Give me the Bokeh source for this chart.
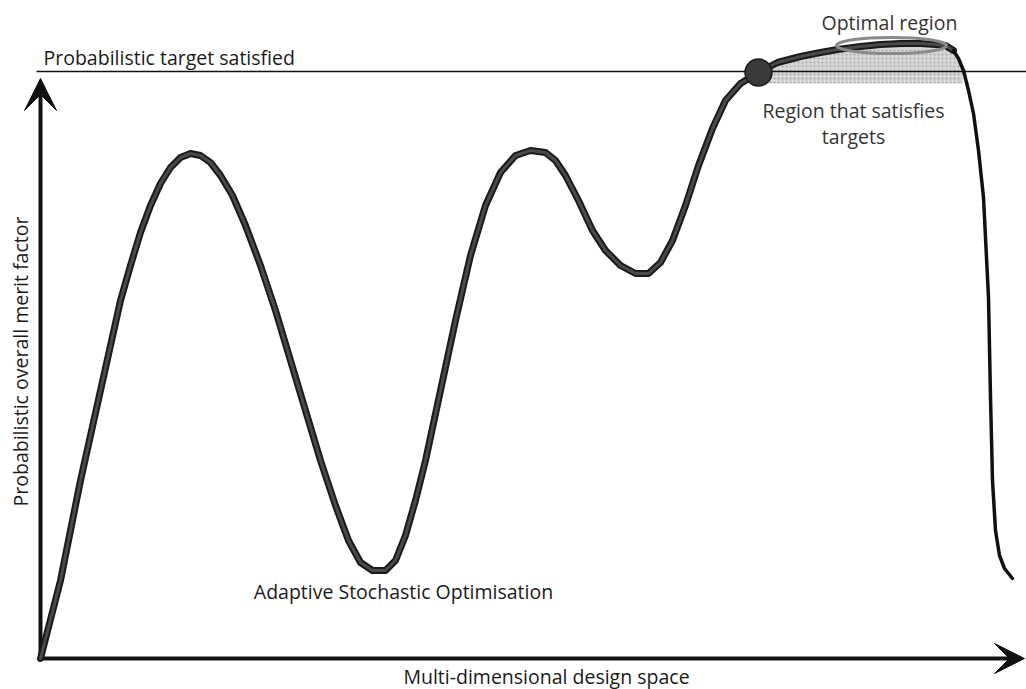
from bokeh.plotting import figure
from bokeh.models import Range1d, Arrow, VeeHead, Label
from bokeh.embed import file_html
from bokeh.resources import INLINE

# Diagram space (units, y grows downward)
x_min, x_max = 40, 1024
y_min, y_top = 658, 78
target_level = 71

# Merit-factor curve (main, thick part)
curve_x = [40, 60, 80, 100, 120, 130, 140, 150, 160, 170, 180, 190, 200, 210, 220, 232, 245,
           260, 275, 290, 305, 320, 335, 348, 360, 372, 385, 395, 405, 415, 425, 440, 455,
           470, 485, 500, 515, 530, 545, 555, 565, 578, 592, 605, 620, 635, 648, 660, 672,
           685, 698, 712, 725, 740, 758, 777, 800, 820, 837, 860, 880, 900, 920, 935, 945, 953]
curve_y = [658, 580, 480, 390, 300, 265, 232, 205, 183, 167, 157, 153, 155, 162, 175, 195, 225,
           265, 310, 360, 410, 460, 505, 540, 562, 570, 570, 560, 535, 500, 460, 390, 320,
           255, 205, 172, 155, 150, 152, 160, 175, 200, 230, 250, 265, 273, 273, 262, 240,
           205, 165, 128, 100, 83, 72, 62, 56, 52, 49, 46, 44, 43, 43, 44, 45, 50]

# Sharp drop after the optimal region (thin part)
drop_x = [953, 958, 963, 968, 973, 978, 983, 988, 990, 992, 995, 999, 1004, 1012]
drop_y = [50, 58, 70, 90, 113, 150, 197, 297, 397, 480, 530, 555, 568, 578]

# Region that satisfies targets (between curve and lower bound)
region_x = [766, 777, 800, 820, 837, 860, 880, 900, 920, 935, 945, 953, 958, 962]
region_top = [68, 62, 56, 52, 49, 46, 44, 43, 43, 44, 45, 50, 58, 68]
region_bottom = 83

# Markers
first_hit = (758, 72)
optimal_center = (891, 45)

p = figure(width=1026, height=689, x_range=Range1d(0, 1026), y_range=Range1d(689, 0),
           output_backend="svg", toolbar_location=None, min_border=0)
p.axis.visible = False
p.grid.visible = False
p.outline_line_color = None
p.background_fill_color = "white"
p.border_fill_color = "white"

# shaded region
p.varea(x=region_x, y1=[region_bottom] * len(region_x), y2=region_top,
        fill_color="#b5b5b5", fill_alpha=0.55, hatch_pattern="dot", hatch_color="#888888",
        hatch_alpha=0.6, hatch_scale=4)

# target line
p.line(x=[x_min - 4, 1026], y=[target_level, target_level], line_color="#111111", line_width=1.3)

# axes arrows
p.line(x=[x_min, x_min], y=[y_min, y_top + 10], line_color="#111111", line_width=4)
p.line(x=[x_min, x_max - 10], y=[y_min, y_min], line_color="#111111", line_width=4)
p.add_layout(Arrow(end=VeeHead(size=32, fill_color="#111111", line_color="#111111"),
                   x_start=x_min, y_start=y_top + 30, x_end=x_min, y_end=y_top,
                   line_width=0, line_alpha=0))
p.add_layout(Arrow(end=VeeHead(size=30, fill_color="#111111", line_color="#111111"),
                   x_start=x_max - 30, y_start=y_min, x_end=x_max, y_end=y_min,
                   line_width=0, line_alpha=0))

# curve
p.line(x=curve_x, y=curve_y, line_color="#1a1a1a", line_width=7, line_join="round", line_cap="round")
p.line(x=curve_x, y=curve_y, line_color="#4a4a4a", line_width=3, line_join="round", line_cap="round")
p.line(x=drop_x, y=drop_y, line_color="#111111", line_width=3.5, line_join="round", line_cap="round")

# optimal region ellipse
p.ellipse(x=[optimal_center[0]], y=[optimal_center[1]], width=110, height=16,
          fill_color=None, line_color="#8a8a8a", line_width=3)

# first point satisfying target
p.scatter(x=[first_hit[0]], y=[first_hit[1]], size=27, fill_color="#3a3a3a", line_color="#1a1a1a",
          line_width=1.5)

font = "Open Sans"
def lab(x, y, t, size="19.5px", align="center", angle=0.0, color="#1a1a1a"):
    p.add_layout(Label(x=x, y=y, text=t, text_font=font, text_font_size=size,
                       text_align=align, text_baseline="middle", angle=angle,
                       text_color=color))

lab(43, 57, "Probabilistic target satisfied", align="left")
lab(889, 22, "Optimal region", color="#333333")
lab(853, 110, "Region that satisfies", color="#333333")
lab(853, 136, "targets", color="#333333")
lab(403, 591, "Adaptive Stochastic Optimisation")
lab(546, 676, "Multi-dimensional design space")
lab(20, 361, "Probabilistic overall merit factor", angle=1.5708)

open("out.html", "w").write(file_html(p, INLINE))
